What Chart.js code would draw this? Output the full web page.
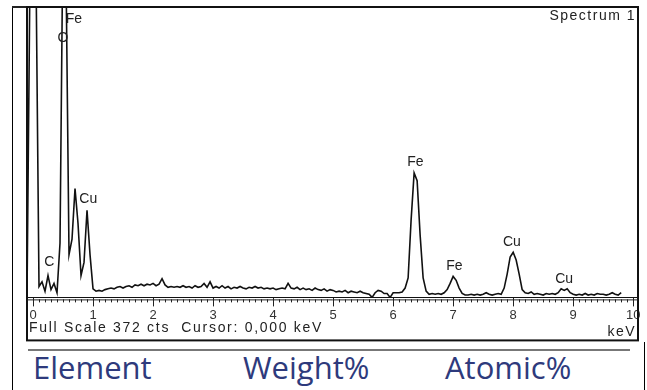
<!DOCTYPE html>
<html>
<head>
<meta charset="utf-8">
<script src="https://cdn.jsdelivr.net/npm/chart.js@4/dist/chart.umd.min.js"></script>
<style>
  body { margin: 0; background: #fff; }
  #page { position: relative; width: 647px; height: 390px; overflow: hidden; background: #fff; }
  #edgeL { position: absolute; left: 12px; top: 7px; width: 1px; height: 383px; background: #000; }
  #edgeT { position: absolute; left: 12px; top: 6px; width: 627px; height: 2px; background: #222; }
  #edgeR { position: absolute; left: 644px; top: 342px; width: 1px; height: 48px; background: #000; }
  #chartBox { position: absolute; left: 0; top: 0; width: 647px; height: 345px; }
  #rule { position: absolute; left: 28px; top: 349px; width: 602px; height: 2px; background: #777; }
  .head { position: absolute; top: 352px; font-family: "Open Sans", sans-serif; font-size: 31px; line-height: 31px; color: #2e3a7c; white-space: nowrap; }
</style>
</head>
<body>
<div id="page">
  <div id="edgeL"></div>
  <div id="edgeT"></div>
  <div id="edgeR"></div>
  <div id="chartBox"><canvas id="edsChart"></canvas></div>
  <div id="rule"></div>
  <div class="head" style="left:33px">Element</div>
  <div class="head" style="left:243px">Weight%</div>
  <div class="head" style="left:445px">Atomic%</div>
</div>
<script>
// EDS spectrum, energy in keV and counts per channel
const energyKeV = [
  -0.10, -0.05, 0.00, 0.05, 0.10, 0.15, 0.20, 0.25, 0.30, 0.35,
  0.40, 0.45, 0.50, 0.55, 0.60, 0.65, 0.70, 0.75, 0.80, 0.85,
  0.90, 0.95, 1.00, 1.05, 1.10, 1.15, 1.20, 1.25, 1.30, 1.35,
  1.40, 1.45, 1.50, 1.55, 1.60, 1.65, 1.70, 1.75, 1.80, 1.85,
  1.90, 1.95, 2.00, 2.05, 2.10, 2.15, 2.20, 2.25, 2.30, 2.35,
  2.40, 2.45, 2.50, 2.55, 2.60, 2.65, 2.70, 2.75, 2.80, 2.85,
  2.90, 2.95, 3.00, 3.05, 3.10, 3.15, 3.20, 3.25, 3.30, 3.35,
  3.40, 3.45, 3.50, 3.55, 3.60, 3.65, 3.70, 3.75, 3.80, 3.85,
  3.90, 3.95, 4.00, 4.05, 4.10, 4.15, 4.20, 4.25, 4.30, 4.35,
  4.40, 4.45, 4.50, 4.55, 4.60, 4.65, 4.70, 4.75, 4.80, 4.85,
  4.90, 4.95, 5.00, 5.05, 5.10, 5.15, 5.20, 5.25, 5.30, 5.35,
  5.40, 5.45, 5.50, 5.55, 5.60, 5.65, 5.70, 5.75, 5.80, 5.85,
  5.90, 5.95, 6.00, 6.05, 6.10, 6.15, 6.20, 6.25, 6.30, 6.35,
  6.40, 6.45, 6.50, 6.55, 6.60, 6.65, 6.70, 6.75, 6.80, 6.85,
  6.90, 6.95, 7.00, 7.05, 7.10, 7.15, 7.20, 7.25, 7.30, 7.35,
  7.40, 7.45, 7.50, 7.55, 7.60, 7.65, 7.70, 7.75, 7.80, 7.85,
  7.90, 7.95, 8.00, 8.05, 8.10, 8.15, 8.20, 8.25, 8.30, 8.35,
  8.40, 8.45, 8.50, 8.55, 8.60, 8.65, 8.70, 8.75, 8.80, 8.85,
  8.90, 8.95, 9.00, 9.05, 9.10, 9.15, 9.20, 9.25, 9.30, 9.35,
  9.40, 9.45, 9.50, 9.55, 9.60, 9.65, 9.70, 9.75, 9.80
];
const counts = [
  0, 420, 420, 420, 14, 20, 8, 28, 10, 18,
  6, 70, 480, 420, 55, 75, 140, 95, 28, 45,
  112, 55, 11, 8, 9, 8, 10, 11, 12, 11,
  13, 14, 12, 14, 15, 13, 16, 15, 17, 15,
  17, 16, 18, 15, 17, 24, 16, 13, 14, 13,
  14, 13, 15, 13, 14, 12, 15, 13, 14, 18,
  13, 20, 12, 14, 12, 15, 12, 14, 11, 13,
  12, 14, 12, 11, 13, 12, 14, 12, 13, 11,
  12, 11, 12, 10, 11, 12, 11, 18, 12, 11,
  13, 10, 12, 10, 11, 9, 12, 10, 9, 11,
  8, 10, 9, 7, 8, 7, 9, 6, 8, 7,
  6, 8, 6, 5, 4, 0, 6, 9, 8, 5,
  5, 0, 6, 6, 6, 7, 12, 25, 100, 160,
  150, 80, 25, 8, 4, 5, 4, 5, 4, 6,
  10, 18, 27, 22, 12, 5, 3, 3, 4, 3,
  4, 3, 4, 6, 4, 3, 4, 5, 4, 12,
  30, 52, 58, 48, 30, 10, 6, 5, 7, 4,
  5, 4, 3, 5, 4, 5, 4, 6, 11, 9,
  11, 6, 4, 3, 4, 3, 5, 3, 4, 3,
  5, 4, 4, 3, 4, 6, 4, 3, 6
];
const tickKeV = [0, 1, 2, 3, 4, 5, 6, 7, 8, 9, 10];
const fullScale = 372;

// element markers: name, energy (keV), height (counts) of the label
const peakNames = ["Fe", "O", "C", "Cu", "Fe", "Fe", "Cu", "Cu"];
const peakKeV = [0.68, 0.50, 0.27, 0.92, 6.37, 7.02, 7.98, 8.85];
const peakCounts = [358, 333, 45, 126, 174, 40, 71, 23];

const FONT = '"Liberation Sans", Arial, sans-serif';
Chart.defaults.font.family = FONT;

const spectrumDecor = {
  id: "spectrumDecor",
  afterDraw(chart) {
    const ctx = chart.ctx;
    const a = chart.chartArea;
    const x = chart.scales.x;
    const y = chart.scales.y;
    ctx.save();

    // frame around the spectrum
    ctx.strokeStyle = "#111";
    ctx.lineWidth = 2;
    ctx.strokeRect(a.left, a.top - 1, a.right - a.left, a.bottom + 44 - a.top);

    // second axis line and minor ticks every 0.1 keV
    ctx.lineWidth = 1;
    ctx.strokeStyle = "#222";
    ctx.beginPath();
    ctx.moveTo(a.left, a.bottom + 2.5);
    ctx.lineTo(a.right, a.bottom + 2.5);
    for (let i = 0; i <= 100; i++) {
      if (i % 10 === 0) continue;
      const px = Math.round(x.getPixelForValue(i / 10)) + 0.5;
      ctx.moveTo(px, a.bottom + 2);
      ctx.lineTo(px, a.bottom + 5);
    }
    ctx.stroke();

    // element labels
    ctx.fillStyle = "#222";
    ctx.font = "14px " + FONT;
    ctx.textAlign = "center";
    ctx.textBaseline = "middle";
    peakNames.forEach((name, i) => {
      ctx.fillText(name, x.getPixelForValue(peakKeV[i]), y.getPixelForValue(peakCounts[i]));
    });

    // captions
    ctx.letterSpacing = "1.5px";
    ctx.textBaseline = "alphabetic";
    ctx.textAlign = "right";
    ctx.fillText("Spectrum 1", a.right - 2, a.top + 12);
    ctx.fillText("keV", a.right - 2, a.bottom + 39);
    ctx.textAlign = "left";
    ctx.letterSpacing = "1.7px";
    ctx.fillText("Full Scale " + fullScale + " cts  Cursor: 0,000 keV", a.left + 2, a.bottom + 35);
    ctx.restore();
  }
};

const ctx = document.getElementById("edsChart").getContext("2d");
const edsChart = new Chart(ctx, {
  type: "line",
  data: {
    datasets: [
      {
        label: "Spectrum 1",
        data: energyKeV.map((e, i) => ({ x: e, y: counts[i] })),
        borderColor: "#111",
        borderWidth: 1.6,
        pointRadius: 0,
        tension: 0,
        fill: false,
      },
    ],
  },
  options: {
    responsive: true,
    maintainAspectRatio: false,
    animation: false,
    layout: { padding: { left: 27, right: 9, top: 8, bottom: 21 } },
    plugins: {
      legend: { display: false },
      tooltip: { enabled: false },
    },
    scales: {
      x: {
        type: "linear",
        min: -0.1,
        max: 10.08,
        afterBuildTicks(scale) {
          scale.ticks = tickKeV.map((v) => ({ value: v }));
        },
        border: { display: true, color: "#111", width: 1 },
        grid: {
          drawOnChartArea: false,
          drawTicks: true,
          tickLength: 9,
          tickColor: "#222",
        },
        ticks: {
          color: "#333",
          font: { size: 13 },
          padding: 1,
          maxRotation: 0,
          autoSkip: false,
        },
      },
      y: {
        display: false,
        min: 0,
        max: fullScale,
      },
    },
  },
  plugins: [spectrumDecor],
});
</script>
</body>
</html>
